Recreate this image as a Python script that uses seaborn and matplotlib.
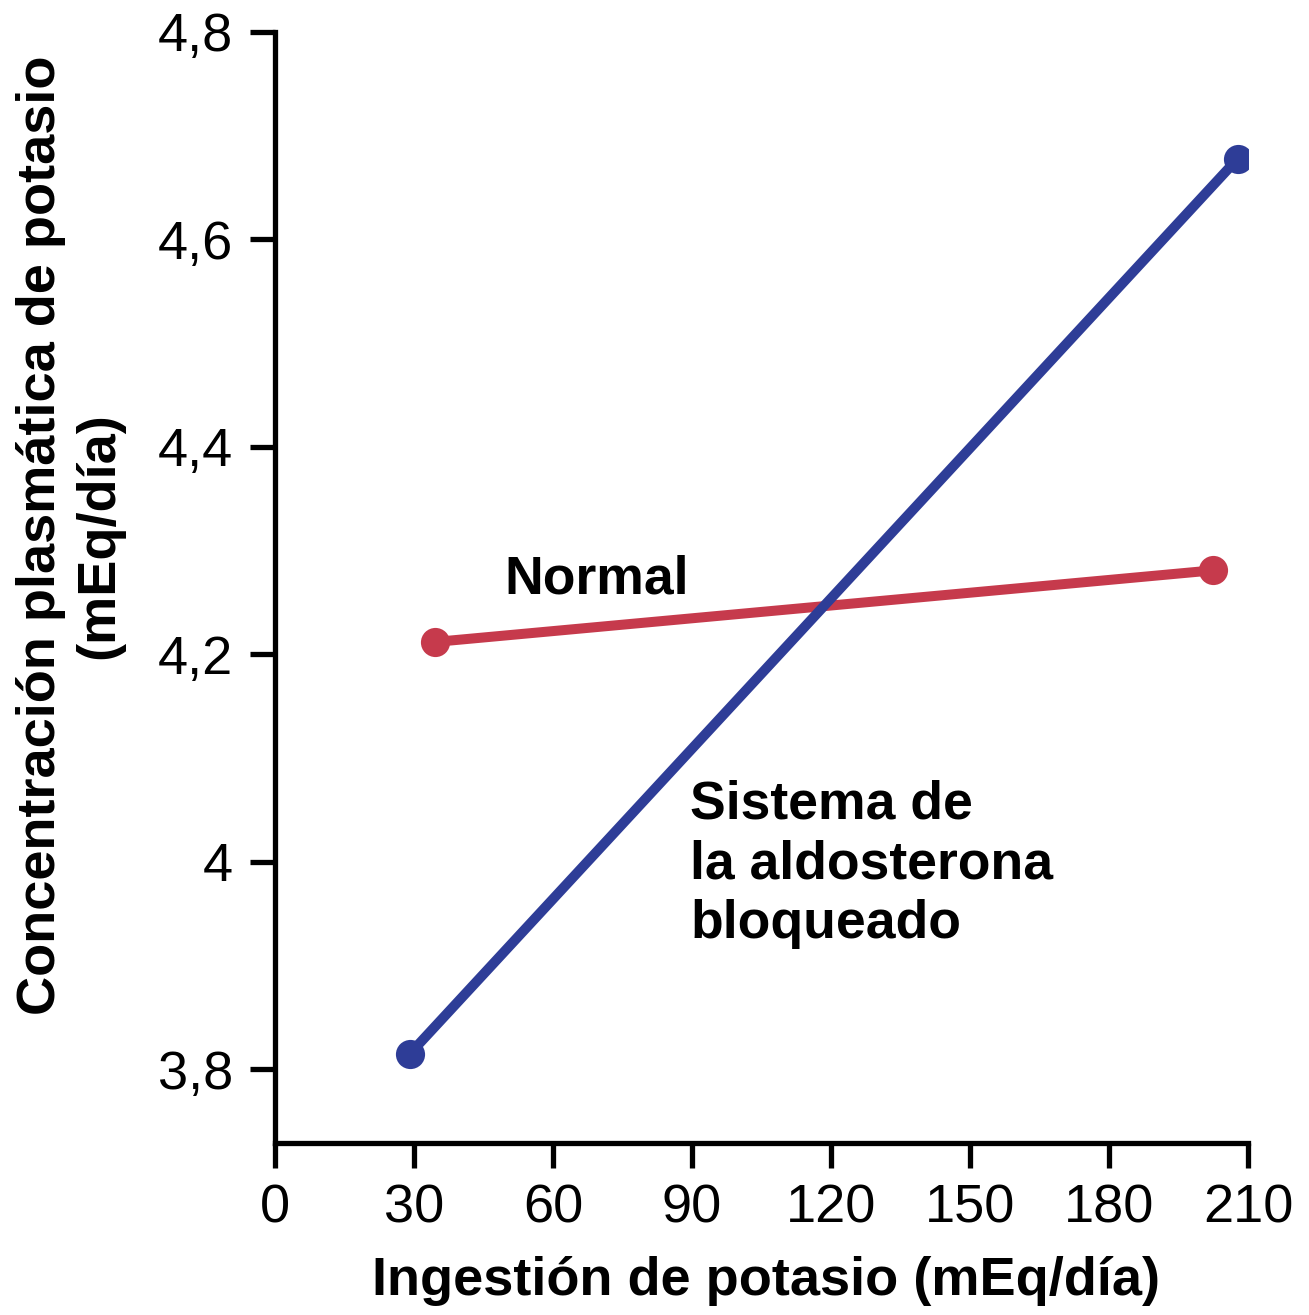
import pandas as pd
import matplotlib.pyplot as plt
import seaborn as sns

# Data
series = ['Normal', 'Normal', 'Bloqueado', 'Bloqueado']
ingestion = [34.5, 202.4, 29.1, 207.8]          # mEq/dia
potasio = [4.212, 4.281, 3.815, 4.678]          # mEq/dia
x_ticks = [0, 30, 60, 90, 120, 150, 180, 210]
y_ticks = [3.8, 4.0, 4.2, 4.4, 4.6, 4.8]
y_ticklabels = ['3,8', '4', '4,2', '4,4', '4,6', '4,8']
colors = {'Normal': '#c63a4c', 'Bloqueado': '#2e3d97'}

df = pd.DataFrame({'serie': series, 'ingestion': ingestion, 'potasio': potasio})

sns.set_style('ticks')
plt.rcParams['font.family'] = ['Liberation Sans', 'DejaVu Sans']
plt.rcParams['text.color'] = 'black'
plt.rcParams['axes.labelcolor'] = 'black'
plt.rcParams['axes.edgecolor'] = 'black'

fig = plt.figure(figsize=(13.09, 13.15), dpi=100)
ax = fig.add_axes([275 / 1309, 1 - 1143 / 1315, 973 / 1309, 1111 / 1315])

sns.lineplot(data=df, x='ingestion', y='potasio', hue='serie', palette=colors,
             marker='o', markersize=21, markeredgewidth=0, linewidth=7.2,
             legend=False, ax=ax)

ax.set_xlim(0, 210)
ax.set_ylim(3.729, 4.8)
ax.set_xticks(x_ticks)
ax.set_yticks(y_ticks)
ax.set_yticklabels(y_ticklabels)
sns.despine(ax=ax)
for sp in ['left', 'bottom']:
    ax.spines[sp].set_linewidth(3.8)
ax.tick_params(axis='both', length=18, width=3.8, labelsize=39, colors='black')
ax.tick_params(axis='x', pad=11)
ax.tick_params(axis='y', pad=12)

ax.set_xlabel('Ingestión de potasio (mEq/día)', fontsize=39, fontweight='bold')
ax.set_ylabel('Concentración plasmática de potasio\n(mEq/día)', fontsize=39,
              fontweight='bold', linespacing=1.2)
ax.xaxis.set_label_coords(0.505, -0.102)
ax.yaxis.set_label_coords(-0.155, 0.547)

# Series labels
ax.text(49.5, 4.259, 'Normal', fontsize=38.5, fontweight='bold', ha='left', va='baseline')
ax.text(89.6, 4.079, 'Sistema de\nla aldosterona\nbloqueado', fontsize=38.5,
        fontweight='bold', ha='left', va='top', linespacing=1.24)

fig.savefig('out.png', dpi=100)
